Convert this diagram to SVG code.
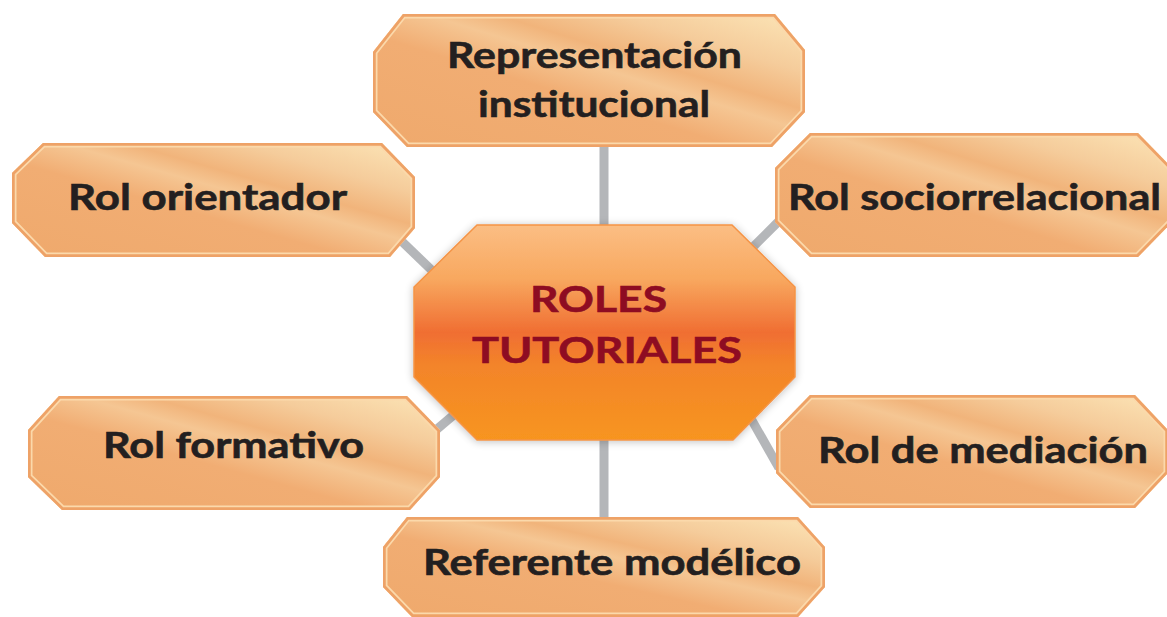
<svg xmlns="http://www.w3.org/2000/svg" xmlns:xlink="http://www.w3.org/1999/xlink" width="1167" height="617" viewBox="0 0 1167 617">
<style>
.fill{fill:url(#boxGrad);}
.ring1{fill:none;stroke:#fbd9ab;stroke-width:9;}
.ring2{fill:none;stroke:#eea267;stroke-width:5.5;}
.lbl{font-family:"Lato","Liberation Sans",sans-serif;font-weight:700;font-size:36px;fill:#231f20;stroke:#231f20;stroke-width:0.6px;}
.ctr{font-family:"Lato","Liberation Sans",sans-serif;font-weight:700;font-size:37px;fill:#8e0c22;stroke:#8e0c22;stroke-width:0.6px;}
.conn{stroke:#b4b6b9;stroke-width:9;fill:none;}
</style>
<defs>
<linearGradient id="boxGrad" x1="0" y1="1" x2="1" y2="0">
<stop offset="0" stop-color="#efa96c"/>
<stop offset="0.42" stop-color="#f1ad73"/>
<stop offset="0.56" stop-color="#f5c693"/>
<stop offset="0.64" stop-color="#f1b47b"/>
<stop offset="0.78" stop-color="#f5cc9b"/>
<stop offset="1" stop-color="#fce6b8"/>
</linearGradient>
<linearGradient id="ctrGrad" x1="0" y1="0" x2="0" y2="1">
<stop offset="0" stop-color="#fbbe84"/>
<stop offset="0.25" stop-color="#f8a85f"/>
<stop offset="0.5" stop-color="#f06e32"/>
<stop offset="0.65" stop-color="#f3842a"/>
<stop offset="1" stop-color="#f7951f"/>
</linearGradient>
<filter id="glow" x="-10%" y="-10%" width="120%" height="120%">
<feGaussianBlur in="SourceAlpha" stdDeviation="4"/>
<feOffset dx="0" dy="1"/>
<feComponentTransfer><feFuncA type="linear" slope="0.25"/></feComponentTransfer>
<feMerge><feMergeNode/><feMergeNode in="SourceGraphic"/></feMerge>
</filter>
<polygon id="p-top" points="403,14 775,14 805,50 805,112 772,147 407,147 373,112 373,52"/>
<polygon id="p-ori" points="43,143 382,143 415,177 415,228 390,257 45,257 12,223 12,173"/>
<polygon id="p-soc" points="810,133 1138,133 1172,168 1172,222 1138,257 810,257 775,222 775,168"/>
<polygon id="p-med" points="810,395 1135,395 1168,430 1168,473 1135,508 810,508 776,473 776,430"/>
<polygon id="p-for" points="59,396 407,396 440,430 440,477 410,510 62,510 28,477 28,430"/>
<polygon id="p-ref" points="407,517 798,517 825,547 825,587 798,617 412,617 383,587 383,547"/>
<clipPath id="c-top"><use xlink:href="#p-top"/></clipPath>
<clipPath id="c-ori"><use xlink:href="#p-ori"/></clipPath>
<clipPath id="c-soc"><use xlink:href="#p-soc"/></clipPath>
<clipPath id="c-med"><use xlink:href="#p-med"/></clipPath>
<clipPath id="c-for"><use xlink:href="#p-for"/></clipPath>
<clipPath id="c-ref"><use xlink:href="#p-ref"/></clipPath>
</defs>
<rect width="1167" height="617" fill="#ffffff"/>
<g id="connectors">
<line class="conn" x1="604" y1="140" x2="604" y2="232"/>
<line class="conn" x1="604" y1="435" x2="604" y2="525"/>
<line class="conn" x1="390" y1="230" x2="445" y2="283"/>
<line class="conn" x1="745" y1="255" x2="785" y2="215"/>
<line class="conn" x1="430" y1="435" x2="462" y2="408"/>
<line class="conn" x1="745" y1="408" x2="779" y2="468"/>
</g>
<g id="node-representacion">
<use xlink:href="#p-top" class="fill"/>
<use xlink:href="#p-top" class="ring1" clip-path="url(#c-top)"/>
<use xlink:href="#p-top" class="ring2" clip-path="url(#c-top)"/>
<text class="lbl" x="447" y="68" textLength="295" lengthAdjust="spacingAndGlyphs">Representación</text>
<text class="lbl" x="478" y="117" textLength="232" lengthAdjust="spacingAndGlyphs">institucional</text>
</g>
<g id="node-orientador">
<use xlink:href="#p-ori" class="fill"/>
<use xlink:href="#p-ori" class="ring1" clip-path="url(#c-ori)"/>
<use xlink:href="#p-ori" class="ring2" clip-path="url(#c-ori)"/>
<text class="lbl" x="68" y="210" textLength="279" lengthAdjust="spacingAndGlyphs">Rol orientador</text>
</g>
<g id="node-sociorrelacional">
<use xlink:href="#p-soc" class="fill"/>
<use xlink:href="#p-soc" class="ring1" clip-path="url(#c-soc)"/>
<use xlink:href="#p-soc" class="ring2" clip-path="url(#c-soc)"/>
<text class="lbl" x="788" y="210" textLength="373" lengthAdjust="spacingAndGlyphs">Rol sociorrelacional</text>
</g>
<g id="node-mediacion">
<use xlink:href="#p-med" class="fill"/>
<use xlink:href="#p-med" class="ring1" clip-path="url(#c-med)"/>
<use xlink:href="#p-med" class="ring2" clip-path="url(#c-med)"/>
<text class="lbl" x="818" y="463" textLength="330" lengthAdjust="spacingAndGlyphs">Rol de mediación</text>
</g>
<g id="node-formativo">
<use xlink:href="#p-for" class="fill"/>
<use xlink:href="#p-for" class="ring1" clip-path="url(#c-for)"/>
<use xlink:href="#p-for" class="ring2" clip-path="url(#c-for)"/>
<text class="lbl" x="103" y="458" textLength="261" lengthAdjust="spacingAndGlyphs">Rol formativo</text>
</g>
<g id="node-referente">
<use xlink:href="#p-ref" class="fill"/>
<use xlink:href="#p-ref" class="ring1" clip-path="url(#c-ref)"/>
<use xlink:href="#p-ref" class="ring2" clip-path="url(#c-ref)"/>
<text class="lbl" x="423" y="575" textLength="378" lengthAdjust="spacingAndGlyphs">Referente modélico</text>
</g>
<g id="node-roles">
<polygon points="477,225 732,225 795,287 795,377 733,440 477,440 414,377 414,287" fill="url(#ctrGrad)" stroke="#f59446" stroke-width="1.5" filter="url(#glow)"/>
<text class="ctr" x="530" y="312" textLength="137" lengthAdjust="spacingAndGlyphs">ROLES</text>
<text class="ctr" x="472" y="363" textLength="270" lengthAdjust="spacingAndGlyphs">TUTORIALES</text>
</g>
</svg>
